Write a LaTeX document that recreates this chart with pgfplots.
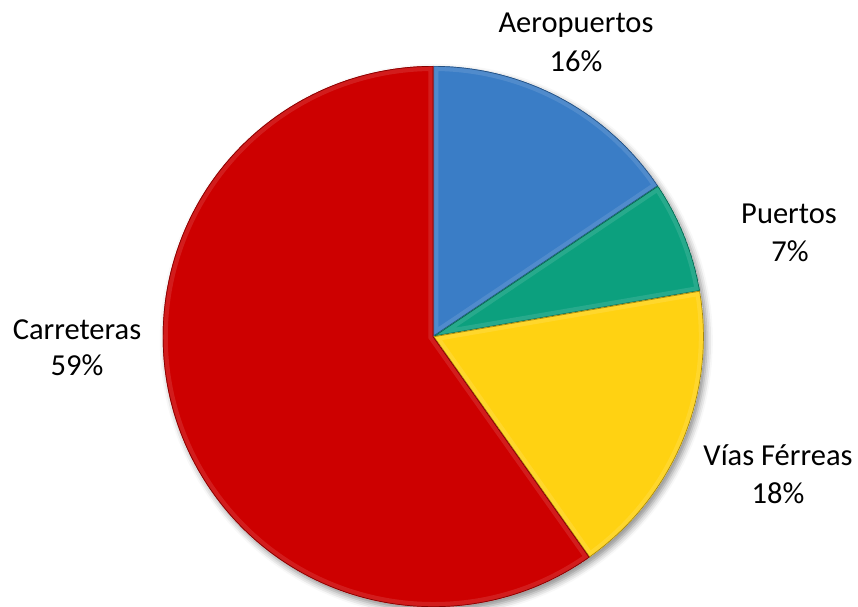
\documentclass[border=0pt]{standalone}
\usepackage{pgfplots}
\pgfplotsset{compat=1.18}
\usepackage{pgfplotstable}
\usepackage{fontspec}
\setmainfont{Carlito}
\usetikzlibrary{shadows.blur}

\definecolor{cBlue}{RGB}{58,125,198}
\definecolor{cGreen}{RGB}{12,160,126}
\definecolor{cYellow}{RGB}{255,210,18}
\definecolor{cRed}{RGB}{205,0,0}

\pgfplotstableread{
name value
Aeropuertos 15.6
Puertos 6.7
Vias 17.9
Carreteras 59.8
}\piedata

\begin{document}
\begin{tikzpicture}
\pgfplotstablegetelem{0}{value}\of\piedata \let\vA\pgfplotsretval
\pgfplotstablegetelem{1}{value}\of\piedata \let\vB\pgfplotsretval
\pgfplotstablegetelem{2}{value}\of\piedata \let\vC\pgfplotsretval
\pgfplotstablegetelem{3}{value}\of\piedata \let\vD\pgfplotsretval
\pgfmathsetmacro\aZ{90}
\pgfmathsetmacro\aA{\aZ-3.6*\vA}
\pgfmathsetmacro\aB{\aA-3.6*\vB}
\pgfmathsetmacro\aC{\aB-3.6*\vC}
\pgfmathsetmacro\aD{\aC-3.6*\vD}
\def\cx{433.3}
\def\cy{270.5}
\def\R{270.5bp}
\begin{axis}[x=1bp,y=1bp,xmin=0,xmax=858,ymin=0,ymax=607,hide axis,clip=false]
\path[fill=white, blur shadow={shadow xshift=3bp, shadow yshift=-4bp, shadow blur radius=6bp, shadow opacity=45}] (axis cs:\cx,\cy) circle[radius=\R];
% slices
\newcommand\slice[3]{%
  \begin{scope}
  \clip (axis cs:\cx,\cy) -- ++(#1:\R) arc[start angle=#1, end angle=#2, radius=\R] -- cycle;
  \fill[#3] (axis cs:\cx,\cy) -- ++(#1:\R) arc[start angle=#1, end angle=#2, radius=\R] -- cycle;
  \draw[#3!55!white, line width=10bp, opacity=0.25] (axis cs:\cx,\cy) -- ++(#1:\R) arc[start angle=#1, end angle=#2, radius=\R] -- cycle;
  \draw[#3!65!black, line width=1.4bp] (axis cs:\cx,\cy) -- ++(#1:\R) arc[start angle=#1, end angle=#2, radius=\R] -- cycle;
  \end{scope}}
\slice{\aZ}{\aA}{cBlue}
\slice{\aA}{\aB}{cGreen}
\slice{\aB}{\aC}{cYellow}
\slice{\aC}{\aD}{cRed}
% labels
\tikzset{lbl/.style={font=\fontsize{30.5bp}{37bp}\selectfont, anchor=base, inner sep=0pt}}
\node[lbl] at (axis cs:576,575) {Aeropuertos};
\node[lbl] at (axis cs:576,536) {16\%};
\node[lbl] at (axis cs:789,384) {Puertos};
\node[lbl] at (axis cs:790,346) {7\%};
\node[lbl] at (axis cs:77,268) {Carreteras};
\node[lbl] at (axis cs:77,232) {59\%};
\node[lbl] at (axis cs:778,142) {Vías Férreas};
\node[lbl] at (axis cs:778,104) {18\%};
\end{axis}
\pgfresetboundingbox
\path (0,0) rectangle (858bp,607bp);
\end{tikzpicture}
\end{document}
